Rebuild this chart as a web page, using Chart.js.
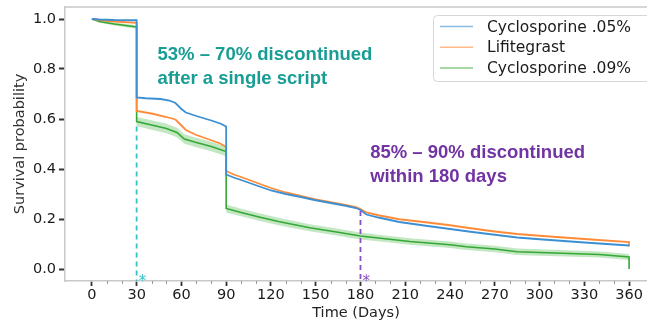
<!DOCTYPE html>
<html><head><meta charset="utf-8">
<script src="https://cdn.jsdelivr.net/npm/chart.js@4/dist/chart.umd.min.js"></script>
<style>html,body{margin:0;padding:0;background:#fff;overflow:hidden}canvas{display:block}</style>
</head><body>
<canvas id="c" width="647" height="322"></canvas>
<script>
const seriesNames = ['Cyclosporine .05%', 'Lifitegrast', 'Cyclosporine .09%'];
const xTickLabels = [0, 30, 60, 90, 120, 150, 180, 210, 240, 270, 300, 330, 360];
const yTickLabels = [0.0, 0.2, 0.4, 0.6, 0.8, 1.0];

const blueDays = [0, 5, 15, 30, 30, 36, 46, 52, 56, 60, 63, 70, 80, 86, 90, 90, 95, 100, 110, 120, 130, 140, 150, 160, 170, 177, 180, 184, 192, 206, 225, 240, 255, 270, 285, 300, 330, 360];
const blueSurv = [1.0, 0.998, 0.996, 0.995, 0.686, 0.683, 0.680, 0.674, 0.664, 0.640, 0.626, 0.612, 0.594, 0.582, 0.570, 0.378, 0.366, 0.356, 0.335, 0.314, 0.300, 0.288, 0.275, 0.264, 0.253, 0.244, 0.236, 0.218, 0.206, 0.188, 0.172, 0.160, 0.148, 0.137, 0.126, 0.119, 0.106, 0.094];

const orangeDays = [0, 5, 15, 30, 30, 40, 50, 56, 60, 63, 70, 80, 86, 90, 90, 95, 100, 110, 120, 130, 140, 150, 160, 170, 177, 180, 184, 192, 206, 225, 240, 255, 270, 285, 300, 330, 360, 360];
const orangeSurv = [1.0, 0.996, 0.990, 0.985, 0.632, 0.622, 0.608, 0.598, 0.574, 0.556, 0.536, 0.515, 0.502, 0.488, 0.392, 0.378, 0.368, 0.346, 0.324, 0.306, 0.292, 0.278, 0.267, 0.256, 0.248, 0.240, 0.226, 0.215, 0.199, 0.186, 0.175, 0.162, 0.150, 0.140, 0.133, 0.120, 0.108, 0.090];

const greenDays = [0, 5, 15, 30, 30, 40, 50, 57, 62, 70, 80, 90, 90, 100, 112, 125, 146, 165, 180, 195, 213, 240, 251, 270, 285, 300, 340, 360, 360];
const greenSurv = [1.0, 0.990, 0.980, 0.968, 0.590, 0.576, 0.562, 0.546, 0.520, 0.506, 0.490, 0.470, 0.242, 0.226, 0.208, 0.190, 0.165, 0.147, 0.132, 0.122, 0.110, 0.097, 0.089, 0.080, 0.069, 0.066, 0.058, 0.048, 0.0];

const bandDays = [0, 5, 15, 30, 30, 40, 50, 57, 62, 70, 80, 90, 90, 100, 112, 125, 146, 165, 180, 195, 213, 240, 251, 270, 285, 300, 340, 360];
const greenUpper = [1.0, 0.995, 0.986, 0.975, 0.608, 0.595, 0.581, 0.565, 0.539, 0.525, 0.509, 0.489, 0.258, 0.241, 0.223, 0.205, 0.179, 0.161, 0.146, 0.135, 0.123, 0.110, 0.102, 0.093, 0.082, 0.079, 0.070, 0.060];
const greenLower = [1.0, 0.985, 0.974, 0.961, 0.572, 0.557, 0.543, 0.527, 0.501, 0.487, 0.471, 0.451, 0.226, 0.211, 0.193, 0.175, 0.151, 0.133, 0.118, 0.109, 0.097, 0.084, 0.076, 0.067, 0.056, 0.053, 0.046, 0.036];

const cutoffDays = [30, 180];
const cutoffTops = [0.57, 0.232];
const noteLines = [['53% \u2013 70% discontinued', 'after a single script'], ['85% \u2013 90% discontinued', 'within 180 days']];

const COLORS = ['#3b8fd2', '#ff8b38', '#35a835'];
const NOTE_COLORS = ['#179d94', '#7233a3'];
const DASH_COLORS = ['#33c3c8', '#8a4fc2'];

const pts = (xs, ys) => xs.map((x, i) => ({x: x, y: ys[i]}));

const datasets = [
  {data: pts(blueDays, blueSurv), borderColor: COLORS[0], borderWidth: 1.8, order: 1},
  {data: pts(orangeDays, orangeSurv), borderColor: COLORS[1], borderWidth: 1.8, order: 2},
  {data: pts(greenDays, greenSurv), borderColor: COLORS[2], borderWidth: 1.6, order: 3},
  {data: pts(bandDays, greenUpper), borderWidth: 0, borderColor: 'rgba(0,0,0,0)', fill: false, order: 5},
  {data: pts(bandDays, greenLower), borderWidth: 0, borderColor: 'rgba(0,0,0,0)', fill: '-1', backgroundColor: 'rgba(80,185,80,0.35)', order: 4},
];
cutoffDays.forEach((d, i) => {
  datasets.push({data: [{x: d, y: cutoffTops[i]}, {x: d, y: -0.048}], borderColor: DASH_COLORS[i], borderWidth: 1.8, borderDash: [5, 4], order: 0});
});
datasets.forEach(ds => { ds.pointRadius = 0; ds.tension = 0; if (ds.fill === undefined) ds.fill = false; });

const FONT = 'DejaVu Sans';

const decor = {
  id: 'decor',
  afterDraw(chart) {
    const {ctx, chartArea: a, scales: {x, y}} = chart;
    ctx.save();
    // top spine
    ctx.strokeStyle = '#c8c8c8'; ctx.lineWidth = 1.5;
    ctx.beginPath(); ctx.moveTo(a.left, a.top); ctx.lineTo(a.right, a.top); ctx.stroke();
    // minor ticks
    ctx.strokeStyle = '#9a9a9a'; ctx.lineWidth = 1;
    ctx.beginPath();
    for (let i = 0; i < xTickLabels.length - 1; i++) {
      for (const k of [1, 2]) {
        const v = xTickLabels[i] + (xTickLabels[i + 1] - xTickLabels[i]) * k / 3;
        const px = Math.round(x.getPixelForValue(v)) + 0.5;
        ctx.moveTo(px, a.bottom); ctx.lineTo(px, a.bottom + 3);
      }
    }
    ctx.stroke();
    // annotations
    const notePos = [[44, 0.836, 0.742], [186.5, 0.444, 0.350]];
    ctx.font = 'bold 18.5px "Liberation Sans", Arial, sans-serif';
    ctx.textAlign = 'left'; ctx.textBaseline = 'alphabetic';
    noteLines.forEach((lines, i) => {
      ctx.fillStyle = NOTE_COLORS[i];
      const px = x.getPixelForValue(notePos[i][0]);
      ctx.fillText(lines[0], px, y.getPixelForValue(notePos[i][1]));
      ctx.fillText(lines[1], px, y.getPixelForValue(notePos[i][2]));
    });
    // asterisks
    ctx.font = '15px "DejaVu Sans"';
    cutoffDays.forEach((d, i) => {
      ctx.fillStyle = DASH_COLORS[i];
      ctx.fillText('*', x.getPixelForValue(d) + 2, a.bottom + 5);
    });
    // legend
    const lx = 433.5, ly = 15.5, lw = 220, lh = 66;
    ctx.fillStyle = 'rgba(255,255,255,0.85)';
    ctx.strokeStyle = '#d6d6d6'; ctx.lineWidth = 1;
    ctx.beginPath();
    ctx.roundRect(lx, ly, lw, lh, 4);
    ctx.fill(); ctx.stroke();
    ctx.font = '15.5px "DejaVu Sans"';
    ctx.textBaseline = 'middle';
    seriesNames.forEach((n, i) => {
      const yy = 26.5 + i * 20.7;
      ctx.strokeStyle = COLORS[i]; ctx.globalAlpha = 0.6; ctx.lineWidth = 1.5;
      ctx.beginPath(); ctx.moveTo(440, yy); ctx.lineTo(473, yy); ctx.stroke();
      ctx.globalAlpha = 1;
      ctx.fillStyle = '#1a1a1a';
      ctx.fillText(n, 487, yy + 1);
    });
    ctx.restore();
  }
};

new Chart(document.getElementById('c'), {
  type: 'line',
  data: {datasets: datasets},
  options: {
    responsive: false,
    animation: false,
    events: [],
    layout: {padding: {top: 7, right: 0, left: 0, bottom: 0}},
    plugins: {legend: {display: false}, tooltip: {enabled: false}},
    scales: {
      x: {
        type: 'linear', min: -18, max: 372,
        afterBuildTicks: s => { s.ticks = xTickLabels.map(v => ({value: v})); },
        afterFit: s => { s.height = 41; s.paddingLeft = 0; s.paddingRight = 0; },
        ticks: {font: {family: FONT, size: 14.5}, color: '#1a1a1a', padding: 1, maxRotation: 0, autoSkip: false},
        grid: {drawOnChartArea: false, drawTicks: true, tickLength: 5, tickWidth: 1.8, tickColor: '#333'},
        border: {color: '#c8c8c8', width: 1.5},
        title: {display: true, text: 'Time (Days)', font: {family: FONT, size: 14.5}, color: '#222', padding: {top: -4, bottom: 0}}
      },
      y: {
        type: 'linear', min: -0.048, max: 1.048,
        afterBuildTicks: s => { s.ticks = yTickLabels.map(v => ({value: v})); },
        afterFit: s => { s.width = 65; s.paddingTop = 0; s.paddingBottom = 0; },
        ticks: {font: {family: FONT, size: 14.5}, color: '#1a1a1a', padding: 3, callback: v => v.toFixed(1)},
        grid: {drawOnChartArea: false, drawTicks: true, tickLength: 6, tickWidth: 2, tickColor: '#333'},
        border: {color: '#c8c8c8', width: 1.5},
        title: {display: true, text: 'Survival probability', font: {family: FONT, size: 14.5}, color: '#333', padding: {top: 12, bottom: 0}}
      }
    }
  },
  plugins: [decor]
});
</script>
</body></html>
